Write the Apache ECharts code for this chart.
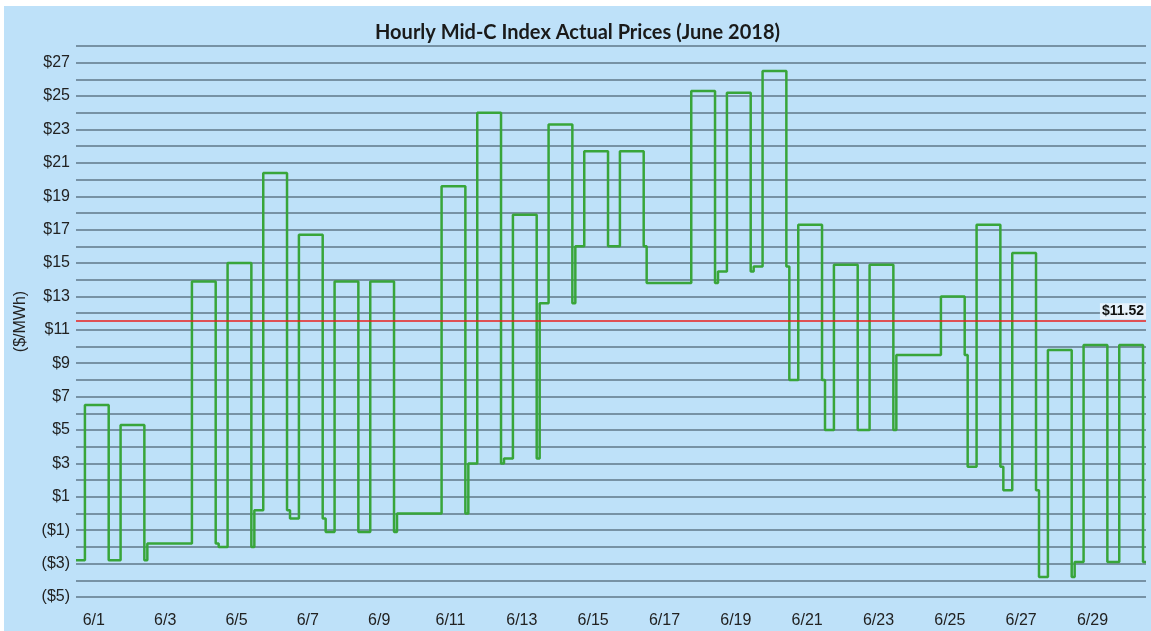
<!DOCTYPE html>
<html>
<head>
<meta charset="utf-8">
<title>Hourly Mid-C Index Actual Prices (June 2018)</title>
<script src="https://cdn.jsdelivr.net/npm/echarts@6/dist/echarts.min.js"></script>
<style>
  html, body { margin: 0; padding: 0; background: #ffffff; }
  #chart {
    position: absolute;
    left: 4px;
    top: 6px;
    width: 1147px;
    height: 625px;
    background: #bee1f9;
  }
</style>
</head>
<body>
<div id="chart"></div>
<script>
// tick labels on the date axis (every other day, June 2018)
var dateLabels = ['6/1', '6/3', '6/5', '6/7', '6/9', '6/11', '6/13', '6/15',
  '6/17', '6/19', '6/21', '6/23', '6/25', '6/27', '6/29']

// daily index prices ($/MWh), 6/1 .. 6/30
// on-peak block (HE7-HE22), null on Sundays (all hours off-peak)
var onPeak = [6.5, 5.3, null, 13.9, 15.0, 20.4, 16.7, 13.9, 13.9, null,
  19.6, 24.0, 17.9, 23.3, 21.7, 21.7, null, 25.3, 25.2, 26.5,
  17.3, 14.9, 14.9, null, 13.0, 17.3, 15.6, 9.8, 10.1, 10.1]
// off-peak block
var offPeak = [-2.8, -2.8, -1.8, -1.8, -2.0, 0.2, -0.3, -1.1, -1.1, 0.0,
  0.0, 3.0, 3.3, 12.6, 16.0, 16.0, 13.8, 13.8, 14.5, 14.8,
  8.0, 5.0, 5.0, 9.5, 9.5, 2.8, 1.4, -3.8, -2.9, -2.9]

// monthly average
var avgPrice = 11.52

var peakStart = 6
var peakEnd = 22

// hourly step points: [hour of month, price]
var points = []
offPeak.forEach(function (off, d) {
  var h = d * 24
  points.push([h, off])
  if (onPeak[d] !== null) {
    points.push([h + peakStart, onPeak[d]])
    points.push([h + peakEnd, off])
  }
})
points.push([offPeak.length * 24, offPeak[offPeak.length - 1]])

function money(v) {
  return v < 0 ? '($' + (-v) + ')' : '$' + v
}

var chart = echarts.init(document.getElementById('chart'))
var option = {
  animation: false,
  backgroundColor: 'transparent',
  title: {
    text: 'Hourly Mid-C Index Actual Prices (June 2018)',
    left: 'center',
    top: 12,
    textStyle: {
      fontFamily: 'Lato, sans-serif',
      fontWeight: 'bold',
      fontSize: 20,
      color: '#1a1a1a'
    }
  },
  grid: {
    left: 72,
    right: 5,
    top: 40,
    bottom: 34
  },
  xAxis: {
    type: 'value',
    min: 0,
    max: 720,
    interval: 12,
    axisLine: { show: false },
    axisTick: { show: false },
    splitLine: { show: false },
    axisLabel: {
      margin: 16,
      fontFamily: 'Liberation Sans, Arial, sans-serif',
      fontSize: 16,
      color: '#222',
      formatter: function (v) {
        if ((v - 12) % 48 !== 0) return ''
        return dateLabels[(v - 12) / 48] || ''
      }
    }
  },
  yAxis: {
    type: 'value',
    min: -5,
    max: 28,
    interval: 1,
    name: '($/MWh)',
    nameLocation: 'middle',
    nameGap: 47,
    nameRotate: 90,
    nameTextStyle: {
      fontFamily: 'Liberation Sans, Arial, sans-serif',
      fontSize: 16,
      color: '#222'
    },
    axisLine: { show: false },
    axisTick: { show: false },
    axisLabel: {
      margin: 6,
      fontFamily: 'Liberation Sans, Arial, sans-serif',
      fontSize: 16,
      color: '#222',
      formatter: function (v) {
        return v % 2 === 0 ? '' : money(v)
      }
    },
    splitLine: {
      lineStyle: { color: '#5f7788', width: 1.7 }
    }
  },
  series: [
    {
      name: 'Mid-C Index',
      type: 'line',
      step: 'end',
      data: points,
      showSymbol: false,
      lineStyle: { color: '#38a53a', width: 2.5 },
      markLine: {
        silent: true,
        symbol: 'none',
        data: [{ yAxis: avgPrice }],
        lineStyle: { color: '#e8201e', width: 1.5, type: 'solid' },
        label: {
          position: 'insideEndTop',
          distance: [0, 2],
          formatter: '$' + avgPrice.toFixed(2),
          fontFamily: 'Liberation Sans, Arial, sans-serif',
          fontWeight: 'bold',
          fontSize: 14,
          color: '#111',
          backgroundColor: 'rgba(235,244,252,0.9)',
          padding: [1, 2]
        }
      }
    }
  ]
}
chart.setOption(option)
</script>
</body>
</html>
